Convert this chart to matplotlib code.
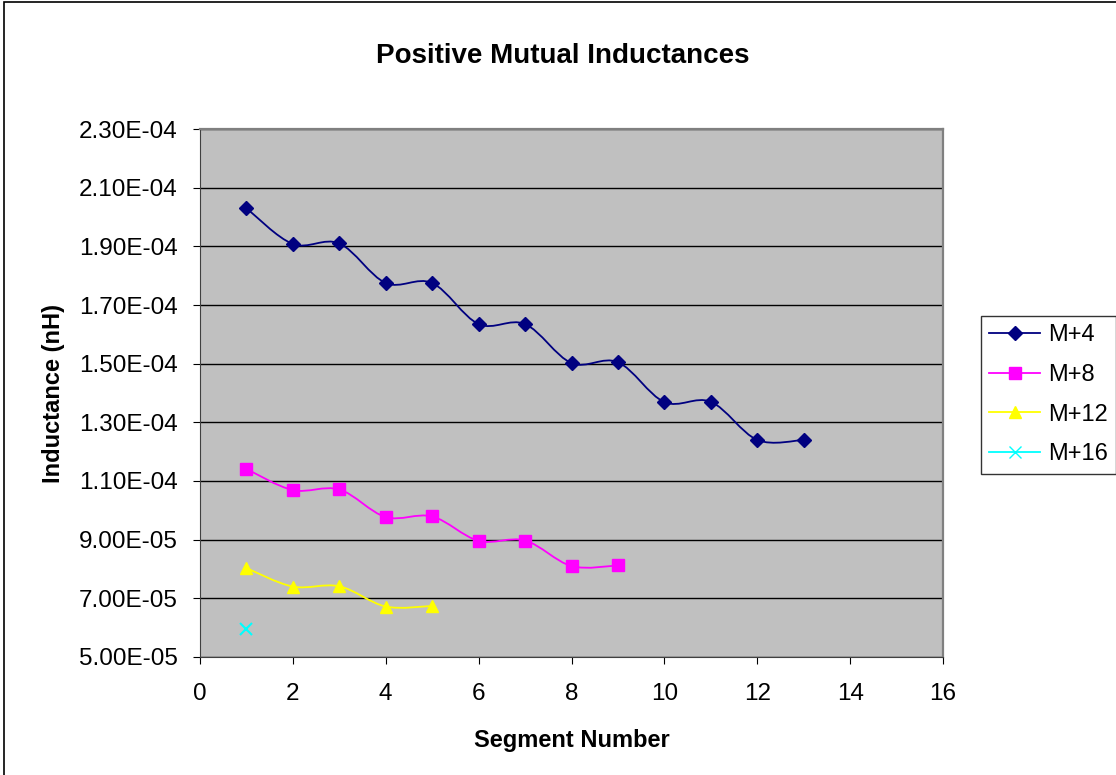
import numpy as np
import matplotlib.pyplot as plt
from matplotlib.path import Path
from matplotlib.patches import PathPatch, Rectangle
from matplotlib.ticker import FuncFormatter

plt.rcParams['font.family'] = ['Liberation Sans', 'DejaVu Sans']

# Mutual inductance per segment, one series per offset
seg_m4 = [1, 2, 3, 4, 5, 6, 7, 8, 9, 10, 11, 12, 13]
m4 = [2.03e-4, 1.908e-4, 1.910e-4, 1.775e-4, 1.775e-4, 1.635e-4, 1.635e-4,
      1.502e-4, 1.505e-4, 1.369e-4, 1.370e-4, 1.240e-4, 1.240e-4]
seg_m8 = [1, 2, 3, 4, 5, 6, 7, 8, 9]
m8 = [1.141e-4, 1.069e-4, 1.071e-4, 0.977e-4, 0.979e-4, 0.896e-4, 0.897e-4,
      0.810e-4, 0.812e-4]
seg_m12 = [1, 2, 3, 4, 5]
m12 = [0.803e-4, 0.740e-4, 0.741e-4, 0.672e-4, 0.674e-4]
seg_m16 = [1]
m16 = [0.596e-4]

series = [
    ('M+4', seg_m4, m4, '#000080', 'D', 7),
    ('M+8', seg_m8, m8, '#FF00FF', 's', 8),
    ('M+12', seg_m12, m12, '#FFFF00', '^', 9),
    ('M+16', seg_m16, m16, '#00FFFF', 'x', 8),
]


def smooth_path(x, y):
    # spreadsheet-style smoothed line: cubic Bezier through each point
    pts = np.column_stack([x, y]).astype(float)
    n = len(pts)
    verts = [pts[0]]
    codes = [Path.MOVETO]
    for i in range(n - 1):
        p0 = pts[max(i - 1, 0)]
        p1 = pts[i]
        p2 = pts[i + 1]
        p3 = pts[min(i + 2, n - 1)]
        c1 = p1 + (p2 - p0) / 6.0
        c2 = p2 - (p3 - p1) / 6.0
        verts += [c1, c2, p2]
        codes += [Path.CURVE4] * 3
    return Path(verts, codes)


fig = plt.figure(figsize=(11.16, 7.75), dpi=100)
ax = fig.add_axes([0.1792, 0.1523, 0.6658, 0.6812])
ax.set_facecolor('#C0C0C0')

for name, xs, ys, col, mk, ms in series:
    if len(xs) > 1:
        ax.add_patch(PathPatch(smooth_path(xs, ys), facecolor='none',
                               edgecolor=col, lw=1.3, zorder=3))
    ax.plot(xs, ys, linestyle='none', marker=mk, markersize=ms, color=col,
            markeredgewidth=1.5 if mk == 'x' else 1, zorder=4)
    # legend proxy
    ax.plot([], [], color=col, lw=1.3, marker=mk, markersize=ms, label=name)

ax.set_xlim(0, 16)
ax.set_ylim(5e-5, 2.3e-4)
ax.set_xticks(np.arange(0, 17, 2))
ax.set_yticks(np.arange(5e-5, 2.31e-4, 2e-5))
ax.yaxis.set_major_formatter(FuncFormatter(lambda v, p: f'{v:.2E}'))
ax.yaxis.grid(True, color='black', lw=1)
ax.set_axisbelow(True)

for s in ['top', 'right']:
    ax.spines[s].set_color('#808080')
    ax.spines[s].set_linewidth(1.6)
for s in ['left', 'bottom']:
    ax.spines[s].set_color('#404040')
ax.tick_params(direction='out', length=5, labelsize=17.5)
ax.tick_params(axis='y', pad=11)
ax.tick_params(axis='x', pad=14)

ax.set_xlabel('Segment Number', fontsize=17, fontweight='bold', labelpad=17)
ax.set_ylabel('Inductance (nH)', fontsize=17, fontweight='bold', labelpad=10)
fig.text(0.504, 0.928, 'Positive Mutual Inductances', ha='center', va='center',
         fontsize=20, fontweight='bold')

leg = ax.legend(loc='upper left', bbox_to_anchor=(981 / 1116, 1 - 316 / 775),
                bbox_transform=fig.transFigure, borderaxespad=0,
                fontsize=17, frameon=True, fancybox=False, edgecolor='black',
                handlelength=2.15, labelspacing=0.75, borderpad=0.35,
                handletextpad=0.35)
leg.get_frame().set_linewidth(1)

fig.patches.append(Rectangle((0.004, -0.01), 1.0, 1.007, transform=fig.transFigure,
                             fill=False, edgecolor='black', lw=1.2))

fig.savefig('out.png', dpi=100)
